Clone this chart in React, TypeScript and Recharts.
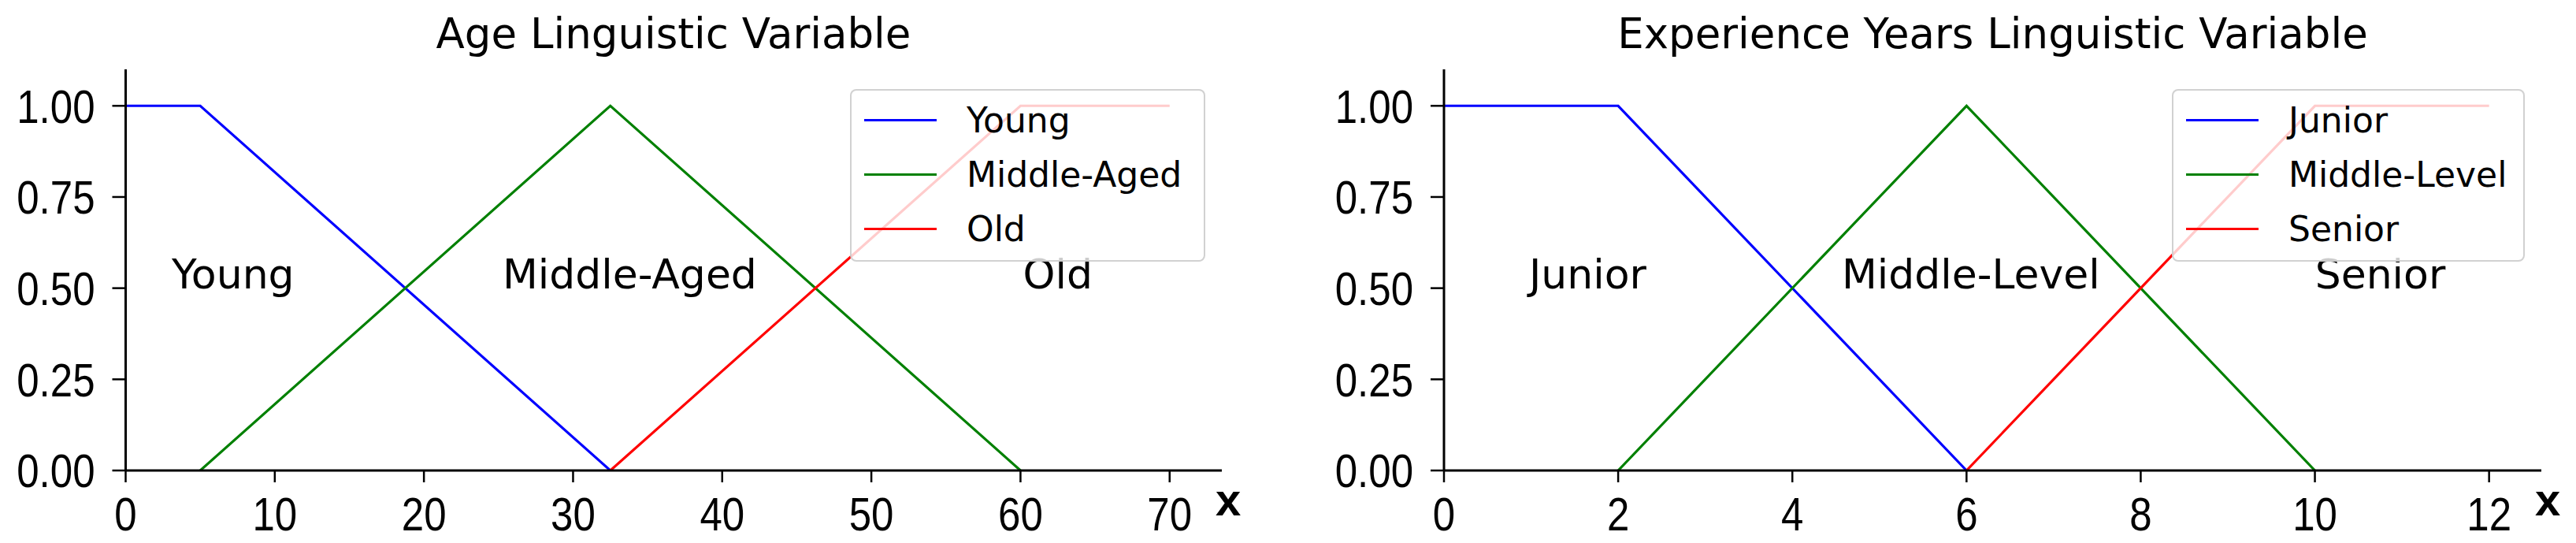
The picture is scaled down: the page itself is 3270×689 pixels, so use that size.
import React from 'react';
import { ComposedChart, Line, Scatter, XAxis, YAxis, Legend } from 'recharts';

// ---------- Data ----------
const ageYoung = [
  { x: 0, y: 1 },
  { x: 5, y: 1 },
  { x: 32.5, y: 0 },
];
const ageMiddle = [
  { x: 5, y: 0 },
  { x: 32.5, y: 1 },
  { x: 60, y: 0 },
];
const ageOld = [
  { x: 32.5, y: 0 },
  { x: 60, y: 1 },
  { x: 70, y: 1 },
];
const ageNotes = [
  { x: 7.2, y: 0.5, label: 'Young' },
  { x: 33.8, y: 0.5, label: 'Middle-Aged' },
  { x: 62.5, y: 0.5, label: 'Old' },
];
const ageXTicks = [0, 10, 20, 30, 40, 50, 60, 70];

const expJunior = [
  { x: 0, y: 1 },
  { x: 2, y: 1 },
  { x: 6, y: 0 },
];
const expMiddle = [
  { x: 2, y: 0 },
  { x: 6, y: 1 },
  { x: 10, y: 0 },
];
const expSenior = [
  { x: 6, y: 0 },
  { x: 10, y: 1 },
  { x: 12, y: 1 },
];
const expNotes = [
  { x: 1.65, y: 0.5, label: 'Junior' },
  { x: 6.05, y: 0.5, label: 'Middle-Level' },
  { x: 10.75, y: 0.5, label: 'Senior' },
];
const expXTicks = [0, 2, 4, 6, 8, 10, 12];

const yTicks = [0, 0.25, 0.5, 0.75, 1.0];
const seriesColors = ['#0000ff', '#008000', '#ff0000'];
const ageNames = ['Young', 'Middle-Aged', 'Old'];
const expNames = ['Junior', 'Middle-Level', 'Senior'];

// ---------- Styles ----------
const TEXT_FONT = "'DejaVu Sans', 'Noto Sans', sans-serif";
const TICK_FONT = "'Liberation Sans Narrow', 'Liberation Sans', Arial, sans-serif";
const TICK_SIZE = 60;
const TICK_SCALE = 0.85;

const NarrowTick = (props: any) => {
  const { x, y, payload, textAnchor, verticalAnchor, fmt } = props;
  const dy = verticalAnchor === 'start' ? '0.71em' : verticalAnchor === 'middle' ? '0.355em' : '0';
  return (
    <g transform={`translate(${x},${y})`}>
      <text
        transform={`scale(${TICK_SCALE},1)`}
        textAnchor={textAnchor}
        dy={dy}
        fontFamily={TICK_FONT}
        fontSize={TICK_SIZE}
        fill="#000"
      >
        {fmt(payload.value)}
      </text>
    </g>
  );
};

const makeLegend = (names: string[]) => () => (
  <div
    style={{
      boxSizing: 'border-box',
      width: '100%',
      height: '100%',
      background: 'rgba(255,255,255,0.8)',
      border: '2px solid rgba(204,204,204,0.9)',
      borderRadius: 8,
      paddingTop: 3,
      fontFamily: TEXT_FONT,
      fontSize: 44,
      color: '#000',
      textAlign: 'left',
    }}
  >
    {names.map((n, i) => (
      <div key={n} style={{ display: 'flex', alignItems: 'center', height: 69 }}>
        <div style={{ marginLeft: 16, width: 92, height: 3, background: seriesColors[i] }} />
        <div style={{ marginLeft: 38, whiteSpace: 'nowrap', lineHeight: '69px' }}>{n}</div>
      </div>
    ))}
  </div>
);

const NoteShape = (props: any) => {
  const { cx, cy, payload } = props;
  return (
    <text x={cx} y={cy} textAnchor="middle" fontFamily={TEXT_FONT} fontSize={52} fill="#000">
      {payload.label}
    </text>
  );
};

type PanelProps = {
  width: number;
  marginLeft: number;
  marginRight: number;
  xMax: number;
  xTicks: number[];
  series: { x: number; y: number }[][];
  names: string[];
  notes: { x: number; y: number; label: string }[];
  legendLeft: number;
  legendWidth: number;
};

const Panel = (p: PanelProps) => (
  <ComposedChart
    width={p.width}
    height={689}
    margin={{ top: 88, right: p.marginRight, bottom: 20, left: p.marginLeft }}
  >
    <XAxis
      type="number"
      dataKey="x"
      domain={[0, p.xMax]}
      ticks={p.xTicks}
      allowDataOverflow
      axisLine={{ stroke: '#000', strokeWidth: 3 }}
      tickLine={{ stroke: '#000', strokeWidth: 2.5 }}
      tickSize={15}
      tickMargin={18}
      height={72}
      tick={(tp: any) => <NarrowTick {...tp} fmt={(v: number) => String(v)} />}
      label={{
        value: 'x',
        position: 'right',
        offset: -8,
        style: { fontFamily: "'Liberation Sans', Arial, sans-serif", fontWeight: 'bold', fontSize: 58, fill: '#000' },
      }}
    />
    <YAxis
      type="number"
      dataKey="y"
      domain={[0, 1.1]}
      ticks={yTicks}
      allowDataOverflow
      width={140}
      axisLine={{ stroke: '#000', strokeWidth: 3 }}
      tickLine={{ stroke: '#000', strokeWidth: 2.5 }}
      tickSize={17}
      tickMargin={22}
      tick={(tp: any) => <NarrowTick {...tp} fmt={(v: number) => v.toFixed(2)} />}
    />
    {p.series.map((d, i) => (
      <Line
        key={p.names[i]}
        data={d}
        dataKey="y"
        name={p.names[i]}
        type="linear"
        stroke={seriesColors[i]}
        strokeWidth={3.2}
        dot={false}
        activeDot={false}
        isAnimationActive={false}
      />
    ))}
    <Scatter data={p.notes} dataKey="y" shape={NoteShape} isAnimationActive={false} legendType="none" />
    <Legend
      layout="horizontal"
      verticalAlign="middle"
      align="center"
      content={makeLegend(p.names)}
      wrapperStyle={{ position: 'absolute', left: p.legendLeft, top: 113, width: p.legendWidth, height: 219 }}
    />
  </ComposedChart>
);

export default function App() {
  return (
    <div style={{ position: 'absolute', left: 0, top: 0, width: 3270, height: 689, background: '#fff', overflow: 'hidden' }}>
      <div style={{ position: 'absolute', left: 0, top: 0 }}>
        <Panel
          width={1640}
          marginLeft={19.5}
          marginRight={89}
          xMax={73.5}
          xTicks={ageXTicks}
          series={[ageYoung, ageMiddle, ageOld]}
          names={ageNames}
          notes={ageNotes}
          legendLeft={1079}
          legendWidth={451}
        />
      </div>
      <div style={{ position: 'absolute', left: 1640, top: 0 }}>
        <Panel
          width={1630}
          marginLeft={53}
          marginRight={44}
          xMax={12.6}
          xTicks={expXTicks}
          series={[expJunior, expMiddle, expSenior]}
          names={expNames}
          notes={expNotes}
          legendLeft={1117}
          legendWidth={448}
        />
      </div>
      <svg width={3270} height={689} style={{ position: 'absolute', left: 0, top: 0, pointerEvents: 'none' }}>
        <text x={855} y={61} textAnchor="middle" fontFamily={TEXT_FONT} fontSize={53} fill="#000">
          Age Linguistic Variable
        </text>
        <text x={2529.5} y={61} textAnchor="middle" fontFamily={TEXT_FONT} fontSize={53} fill="#000">
          Experience Years Linguistic Variable
        </text>
      </svg>
    </div>
  );
}
